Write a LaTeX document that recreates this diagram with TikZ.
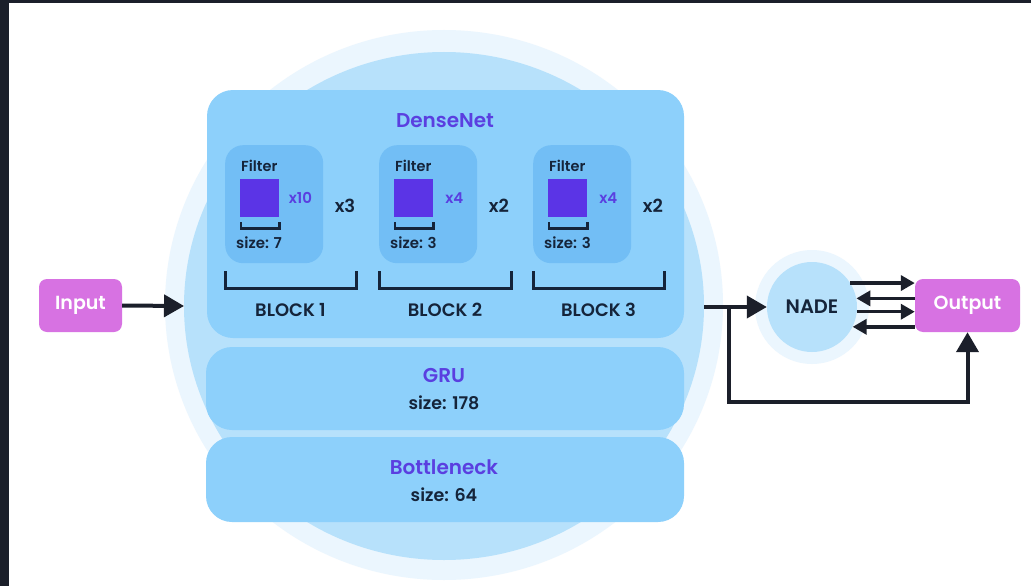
\documentclass[tikz,border=0pt]{standalone}
\usepackage{fontspec}
\setmainfont{Poppins}[BoldFont={* SemiBold}]
\usetikzlibrary{arrows.meta,calc}
\definecolor{frame}{HTML}{1B1F2A}
\definecolor{halo}{HTML}{EBF6FE}
\definecolor{disc}{HTML}{B7E1FB}
\definecolor{panel}{HTML}{8DD0FB}
\definecolor{filterbg}{HTML}{72BEF5}
\definecolor{kernel}{HTML}{5B34E6}
\definecolor{accent}{HTML}{5A3FE0}
\definecolor{ink}{HTML}{15243A}
\definecolor{pinkbox}{HTML}{D772E2}
\tikzset{
  panel/.style={fill=panel, rounded corners=26pt, inner sep=0pt},
  filterbox/.style={fill=filterbg, rounded corners=18pt, minimum width=98pt, minimum height=118pt, inner sep=0pt},
  kernelsq/.style={fill=kernel, minimum width=39pt, minimum height=38pt, inner sep=0pt},
  io/.style={fill=pinkbox, rounded corners=8pt, text=white, font=\fontsize{19}{22}\selectfont\bfseries, inner sep=0pt},
  title/.style={text=accent, font=\fontsize{20}{24}\selectfont\bfseries, inner sep=0pt},
  sizelbl/.style={text=ink, font=\fontsize{17.5}{20}\selectfont\bfseries, inner sep=0pt},
  smalllbl/.style={text=ink, font=\fontsize{14.5}{17}\selectfont\bfseries, inner sep=0pt},
  kernlbl/.style={text=ink, font=\fontsize{15}{17}\selectfont\bfseries, inner sep=0pt},
  multlbl/.style={text=accent, font=\fontsize{15}{17}\selectfont\bfseries, inner sep=0pt},
  replbl/.style={text=ink, font=\fontsize{18}{21}\selectfont\bfseries, inner sep=0pt},
  blocklbl/.style={text=ink, font=\fontsize{18}{21}\selectfont\bfseries, inner sep=0pt},
  nadelbl/.style={text=ink, font=\fontsize{19.5}{23}\selectfont\bfseries, inner sep=0pt},
  brace/.style={draw=ink, line width=3pt},
  minibrace/.style={draw=ink, line width=2.2pt},
  link/.style={draw=frame, line width=4pt, -{Triangle[length=20pt,width=22pt]}},
  shortlink/.style={draw=frame, line width=3.5pt, -{Triangle[length=14pt,width=15pt]}},
}
\begin{document}
\begin{tikzpicture}[x=1pt,y=-1pt]
\useasboundingbox (0,0) rectangle (1031,586);
% page and dark frame
\fill[white] (0,0) rectangle (1031,586);
\fill[frame] (0,0) rectangle (1031,3);
\fill[frame] (0,0) rectangle (9,586);

% background discs
\fill[halo] (444,305) ellipse [x radius=279, y radius=275];
\fill[disc] (444,306) ellipse [x radius=260, y radius=254];

% main panels
\node[panel, minimum width=477pt, minimum height=248pt] (dense) at (445.5,214) {};
\node[panel, minimum width=478pt, minimum height=83pt] (gru) at (445,388.5) {};
\node[panel, minimum width=478pt, minimum height=85pt] (bneck) at (445,479.5) {};

\node[title] (densetitle) at (445,121) {DenseNet};
\node[title] (grutitle) at (444,375) {GRU};
\node[sizelbl] (grusize) at (444,403) {size: 178};
\node[title] (bnecktitle) at (444,467) {Bottleneck};
\node[sizelbl] (bnecksize) at (444,495) {size: 64};

% three convolution blocks
\foreach \i/\bx/\mult/\rep/\ks/\bw in {1/225/x10/x3/7/131, 2/379/x4/x2/3/132, 3/533/x4/x2/3/131}{
  \node[filterbox, anchor=north west] (fb\i) at (\bx,145) {};
  \node[smalllbl, anchor=west] (ft\i) at (\bx+16,166) {Filter};
  \node[kernelsq, anchor=north west] (k\i) at (\bx+15,179) {};
  \draw[minibrace] ($(k\i.south west)+(1,5)$) -- ++(0,6) -- ($(k\i.south east)+(0,11)$) -- ++(0,-6);
  \node[kernlbl, anchor=west] (ks\i) at (\bx+11,243) {size: \ks};
  \node[multlbl] (m\i) at ($(k\i.east)+(21,0)$) {\mult};
  \node[replbl] (r\i) at (\bx+120,206) {\rep};
  \draw[brace] (\bx,271) -- (\bx,288) -- (\bx+\bw,288) -- (\bx+\bw,271);
  \node[blocklbl] (bl\i) at (\bx+\bw/2,310) {BLOCK \i};
}

% input / output and NADE
\node[io, minimum width=83pt, minimum height=53pt] (input) at (80.5,305.5) {Input};
\node[io, minimum width=105pt, minimum height=53pt] (output) at (967.5,305.5) {Output};
\fill[halo] (812,307) circle (57);
\node[circle, fill=disc, minimum size=90pt, nadelbl] (nade) at (812,307) {NADE};

% connectors
\coordinate (discin) at (184,306);
\coordinate (discout) at (704,307);
\coordinate (split) at (729,307);
\coordinate (turn) at (967.5,402);
\draw[link] (input.east) -- (discin);
\draw[link] (discout) -- (nade.west);
\draw[link] (split) |- (turn) -- (output.south);
\draw[shortlink] (nade.32) -- (nade.32 -| output.west);
\draw[shortlink] (nade.11 -| output.west) -- (nade.11);
\draw[shortlink] (nade.-6) -- (nade.-6 -| output.west);
\draw[shortlink] (nade.-26 -| output.west) -- (nade.-26);
\end{tikzpicture}
\end{document}
